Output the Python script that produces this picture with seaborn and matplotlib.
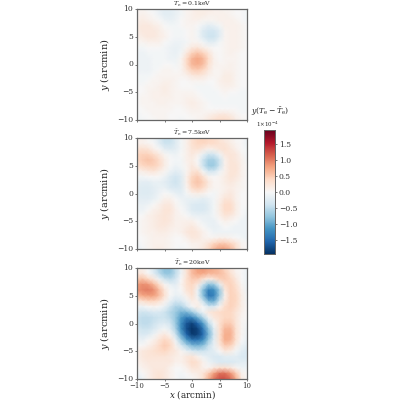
import numpy as np
import matplotlib
matplotlib.use("Agg")
import matplotlib.pyplot as plt
import seaborn as sns

# rows run y = 10 .. -10, columns x = -10 .. 10, values in units of 1e-5
map_low = [
    [.5, .5, 0, -.5, -1.5, -2, -2, -1.5, -.5, .5, 1, 1.5, 1.5, 1.5, 1, 1, .5, .5, 0, 0, -.5],
    [.5, 1, .5, 0, -1, -2, -2, -1.5, -.5, .5, 1, 1.5, 1.5, 1, 1, 1, 1, .5, 0, 0, -.5],
    [1, 1.5, 1, .5, 0, -1, -1.5, -1, 0, .5, 1, 1, .5, .5, .5, 1, 1, 1, .5, 0, -.5],
    [1.5, 2, 2, 1.5, 1, 0, -.5, -.5, 0, .5, .5, 0, -1, -2, -1.5, -.5, 1, 1, 1, .5, 0],
    [1.5, 2, 2, 2, 1.5, .5, 0, -.5, -.5, 0, .5, -.5, -2.5, -3.5, -3.5, -2, .5, 1, 1, .5, 0],
    [1, 1.5, 2, 2, 1.5, 1, 0, -.5, -.5, 0, .5, -.5, -2.5, -4, -4, -2, .5, 1, 1, .5, 0],
    [.5, .5, 1, 1, 1, 0, -.5, -1, -1, -.5, .5, .5, -.5, -2, -2, -.5, .5, 1, 1, .5, 0],
    [-.5, -.5, 0, 0, 0, -.5, -1, -1.5, -1, .5, 2, 2.5, 1.5, .5, 0, 0, .5, 1, 1, .5, 0],
    [-1, -1, -.5, -.5, -.5, -.5, -1, -1.5, -.5, 2, 4.5, 5.5, 4.5, 2.5, .5, 0, .5, 1, .5, 0, 0],
    [-1, -1, -1, -.5, -.5, -.5, -1, -1, .5, 3.5, 6.5, 7.5, 6.5, 3.5, 1, 0, .5, .5, .5, 0, 0],
    [-1, -1, -1, -.5, -.5, 0, 0, -.5, .5, 3.5, 6.5, 7, 6, 3, 1, .5, .5, 1, .5, 0, 0],
    [-1, -1, -1, -.5, 0, .5, .5, 0, .5, 2.5, 4.5, 5, 4, 2, .5, .5, 1, 1, .5, 0, 0],
    [-.5, -.5, -.5, 0, .5, .5, .5, .5, .5, 1, 2, 2.5, 2, 1, .5, .5, 1.5, 1.5, .5, 0, 0],
    [-.5, -.5, 0, .5, .5, 1, 1, .5, 0, 0, .5, .5, .5, 0, 0, 1, 1.5, 1.5, .5, 0, 0],
    [0, 0, .5, .5, 1, 1.5, 1, .5, 0, 0, 0, -.5, -.5, -.5, 0, .5, 1, 1, .5, 0, 0],
    [0, 0, .5, 1, 1, 1.5, 1, .5, .5, .5, .5, 0, -.5, -.5, -.5, 0, .5, 0, 0, -.5, -.5],
    [0, .5, .5, 1, 1, 1, 1, .5, .5, 1, 1, .5, 0, -.5, -.5, -.5, 0, -.5, -.5, -.5, -.5],
    [0, .5, .5, .5, 1, 1, .5, .5, .5, 1, 1.5, 1, .5, 0, -.5, -.5, -.5, -.5, -.5, -.5, -.5],
    [0, 0, .5, .5, .5, .5, .5, 0, 0, .5, 1, 1, .5, 0, 0, 0, 0, 0, 0, -.5, -.5],
    [-.5, 0, 0, .5, .5, .5, 0, 0, 0, 0, .5, .5, .5, 1, 1.5, 2, 2, 1.5, .5, 0, 0],
    [-.5, -.5, 0, 0, .5, .5, 0, 0, -.5, 0, 0, .5, 1, 2, 3, 3.5, 3.5, 3, 1.5, .5, 0],
]
map_mid = [
    [1, 1, 0, -1, -2.5, -4.5, -4.5, -2.5, -.5, 1, 3, 4, 4.5, 4, 3.5, 2.5, 1.5, 1, 0, 0, -1],
    [1, 1, .5, 0, -2, -4, -4, -2.5, -.5, 1, 3, 4, 4, 3.5, 3.5, 3, 2.5, 1.5, .5, 0, -1],
    [2.5, 3, 2.5, 1, 0, -2, -2.5, -2, -.5, 1, 2.5, 3, 2, 1, 1.5, 2.5, 3, 2, 1, 0, -.5],
    [4, 4.5, 4.5, 3.5, 2, .5, -.5, -1, 0, 1, 2, 1, -1.5, -4, -3.5, -1, 2, 2.5, 2, .5, -.5],
    [4, 5, 5.5, 5, 3.5, 1.5, 0, -.5, -.5, 1, 1.5, 0, -4, -6.5, -6.5, -4, 1, 2.5, 2, 1, -.5],
    [3, 4, 4.5, 4.5, 3.5, 1.5, 0, -1, -.5, .5, 2, .5, -4, -7, -7, -4, 1, 2.5, 2.5, 1, 0],
    [1, 1.5, 2, 2.5, 1.5, .5, -1, -2, -1.5, .5, 2.5, 3, -.5, -3.5, -3.5, -1, 1, 2.5, 2.5, 1, 0],
    [-.5, -.5, 0, 0, 0, -1, -2.5, -3.5, -2.5, 1, 4, 5, 3, .5, 0, .5, 1.5, 2.5, 2, 1, 0],
    [-1.5, -2, -2, -1.5, -1.5, -2, -3, -4, -2.5, 1, 4.5, 5.5, 4.5, 2, .5, .5, 1.5, 2, 1.5, .5, 0],
    [-2, -2.5, -2.5, -2, -1.5, -1.5, -2.5, -3, -2.5, .5, 3.5, 4.5, 3.5, 1.5, .5, .5, 1, 1.5, 1, .5, 0],
    [-2, -2.5, -2.5, -2, -1, 0, -.5, -1.5, -2, -.5, 1, 1.5, 1, 0, -.5, .5, 1.5, 2, 1, 0, 0],
    [-2, -2, -2, -1.5, -.5, 1, 1, 0, -1, -1.5, -1.5, -1.5, -2, -1.5, -.5, 1, 2.5, 2.5, 1, 0, 0],
    [-1, -1.5, -1, 0, 1, 2, 2, .5, -.5, -1.5, -2.5, -3, -3, -2, -.5, 1.5, 3.5, 3.5, 1.5, 0, 0],
    [-1, -1, 0, 1, 1.5, 2.5, 2.5, 1, 0, -1, -2.5, -3, -3, -2, -.5, 1.5, 3.5, 3.5, 1.5, 0, -.5],
    [0, 0, 1, 1.5, 2, 2.5, 2, 1, .5, 0, -1, -1.5, -1.5, -1.5, -.5, 1, 2.5, 2, 1, 0, -1],
    [0, .5, 1, 1.5, 2, 2.5, 2, 1, 1, 1, 1, 0, -1, -1.5, -1.5, 0, 1, .5, 0, -1, -1],
    [0, .5, 1, 1.5, 2, 2, 1.5, 1, 1, 1.5, 2, 1, 0, -1, -1.5, -1, 0, -.5, -1, -1, -1],
    [0, .5, 1, 1, 1.5, 1.5, 1, .5, 1, 2, 2.5, 2, 1, 0, -1, -1, -1, -1, -1, -1, -1],
    [0, 0, .5, 1, 1, 1, .5, 0, 0, 1, 2, 2, 1, .5, .5, 1, 1, .5, 0, -.5, -1],
    [-.5, 0, .5, 1, 1, 1, .5, 0, 0, 0, 1, 1, 1.5, 2.5, 4, 5, 5, 4, 2.5, .5, 0],
    [-1, -.5, .5, 1, 1.5, 1, .5, 0, -.5, 0, .5, 1, 2, 4, 6.5, 8, 8, 6.5, 3.5, 1, 0],
]
map_high = [
    [1, 1, -.5, -3, -6, -8, -8, -5, -1, 3, 6, 8, 8.5, 8, 7, 6, 4, 2, .5, 0, -1],
    [2, 2, 0, -2, -5, -7.5, -7.5, -5, -1, 2.5, 6, 7.5, 7.5, 6.5, 6.5, 6, 5, 3, 1, 0, -1],
    [5, 5.5, 4, 2, -1, -4, -5, -3.5, 0, 3, 5, 5, 3, 1.5, 2.5, 4.5, 5, 4, 2, 0, -1],
    [8, 9, 8.5, 6.5, 3.5, .5, -1.5, -2, .5, 3, 4, 2, -4, -8, -7, -2, 3.5, 4.5, 3, .5, -1],
    [8.5, 9.5, 10, 9, 6, 2.5, 0, -1, 0, 2.5, 3.5, -1, -8, -13, -12, -7, 2, 4.5, 3.5, 1, -1],
    [6, 7.5, 8, 8, 6, 3, 0, -1.5, -1, 1, 3, -1, -8, -14, -13, -7, 1, 4.5, 4, 1.5, -.5],
    [2.5, 3, 4, 4, 3, 1, -1.5, -3.5, -3, -1, 1.5, 1, -4, -9, -9.5, -4, 2, 4.5, 4, 1.5, -.5],
    [-1, -1, 0, .5, 0, -1.5, -4, -6, -6, -3.5, -.5, 1.5, 0, -3, -3, .5, 3.5, 4.5, 3.5, 1.5, 0],
    [-3, -4, -3.5, -3, -3, -4, -5.5, -7, -9, -9, -7, -4, -1, 2, 3, 3.5, 4, 4, 2.5, 1, 0],
    [-4, -5, -5, -4.5, -4, -4, -5, -7.5, -11, -13.5, -13, -10, -6, -1, 2, 3, 4, 4, 2.5, .5, 0],
    [-4, -5, -5, -4, -3, -2.5, -3.5, -7, -12, -16.5, -18, -15.5, -11, -5, -.5, 3, 5, 5, 2.5, .5, -.5],
    [-3, -4, -4, -3, -1.5, -.5, -2, -6, -12, -17, -19, -18, -14, -8, -2, 3, 6.5, 6.5, 3, .5, -1],
    [-2, -3, -2.5, -1, 1, 2, .5, -4, -10, -15.5, -18.5, -18, -15, -9, -3, 3, 7, 7, 3, .5, -1],
    [-1, -1.5, 0, 1, 2.5, 4, 3, -1, -6.5, -11, -14, -14, -12, -7, -2, 3, 7, 6.5, 3, 0, -1.5],
    [0, 0, 1, 2, 3.5, 5, 4, 1, -3, -6, -8.5, -9, -8, -4.5, -1.5, 2, 5, 4.5, 1.5, -1, -2],
    [1, 2, 2.5, 3, 3.5, 4, 3, 2, .5, -1.5, -3, -4, -4, -3, -2, 0, 2, 1.5, -.5, -2, -3],
    [1, 2, 2.5, 2.5, 2.5, 2.5, 2, 1.5, 1, 2, 2.5, 1, -1, -2, -3, -3, -2, -2, -2, -3, -3],
    [1, 1.5, 2, 2, 2, 2, 2, 1, 1, 2, 3.5, 3, 1, -1, -2, -3, -3, -3, -2.5, -2, -2],
    [0, 1, 1.5, 2, 2, 2, 1, 0, 0, 1, 2.5, 2.5, 1, .5, 2, 3, 3, 2, .5, -1, -1],
    [-1, 0, 1, 2, 2.5, 2, 1, 0, -.5, 0, 1, 1.5, 2.5, 5, 8, 10.5, 10.5, 8.5, 5, 1, 0],
    [-2, -1, 1, 2, 3, 2, 1, 0, -1, -.5, 0, 1, 3, 7, 10.5, 12.5, 12.5, 11, 7, 2, 0],
]
titles = [r"$\bar{T}_{\rm e}=0.1$keV", r"$\bar{T}_{\rm e}=7.5$keV", r"$\bar{T}_{\rm e}=20$keV"]
tick_labels = ["\u221210", "\u22125", "0", "5", "10"]
cbar_ticks = [-1.5, -1.0, -0.5, 0.0, 0.5, 1.0, 1.5]

sns.set_style("ticks")
plt.rcParams["font.family"] = ["DejaVu Serif"]
plt.rcParams["mathtext.fontset"] = "dejavuserif"

fig = plt.figure(figsize=(4, 4), dpi=100)
cax = fig.add_axes([264 / 400, 1 - 254 / 400, 11 / 400, 124 / 400])
tops = [9, 138, 268]

for i, grid in enumerate([map_low, map_mid, map_high]):
    ax = fig.add_axes([137 / 400, 1 - (tops[i] + 111) / 400, 110 / 400, 111 / 400])
    # units of 1e-4 for the colorbar
    sns.heatmap(np.array(grid) / 10, ax=ax, cmap="RdBu_r", vmin=-1.94, vmax=1.94,
                cbar=i == 0, cbar_ax=cax if i == 0 else None,
                shading="gouraud", rasterized=True)
    ax.set_xlim(0, 20)
    ax.set_ylim(20, 0)
    ax.set_xticks([0, 5, 10, 15, 20])
    ax.set_yticks([0, 5, 10, 15, 20])
    ax.set_yticklabels(tick_labels[::-1], rotation=0, fontsize=5.5, color="#333333")
    ax.set_xticklabels(tick_labels if i == 2 else [], rotation=0, fontsize=5, color="#333333")
    ax.tick_params(length=1.5, width=0.5, pad=1.2, color="#444444")
    ax.tick_params(axis="x", pad=0.8)
    for s in ax.spines.values():
        s.set_visible(True)
        s.set_color("#666666")
        s.set_linewidth(0.9)
    ax.set_title(titles[i], fontsize=4.5, pad=1.5)
    ax.set_ylabel(r"$y$ (arcmin)", fontsize=7)
    ax.yaxis.set_label_coords(-0.23, 0.5)
    if i == 2:
        ax.set_xlabel(r"$x$ (arcmin)", fontsize=6.3)
        ax.xaxis.set_label_coords(0.5, -0.08)

cax.set_yticks(cbar_ticks)
cax.set_yticklabels(["\u22121.5", "\u22121.0", "\u22120.5", "0.0", "0.5", "1.0", "1.5"], fontsize=5.5, color="#333333")
cax.tick_params(length=1.5, width=0.5, pad=1.2, color="#444444")
for s in cax.spines.values():
    s.set_visible(True)
    s.set_color("#666666")
    s.set_linewidth(0.7)
fig.text(256 / 400, 1 - 129 / 400, r"$1{\times}10^{-4}$", fontsize=4, va="bottom")
fig.text(251 / 400, 1 - 118 / 400, r"$y(T_{\rm e}-\bar{T}_{\rm e})$", fontsize=5.5, va="bottom")

fig.savefig("out.png", dpi=100)
